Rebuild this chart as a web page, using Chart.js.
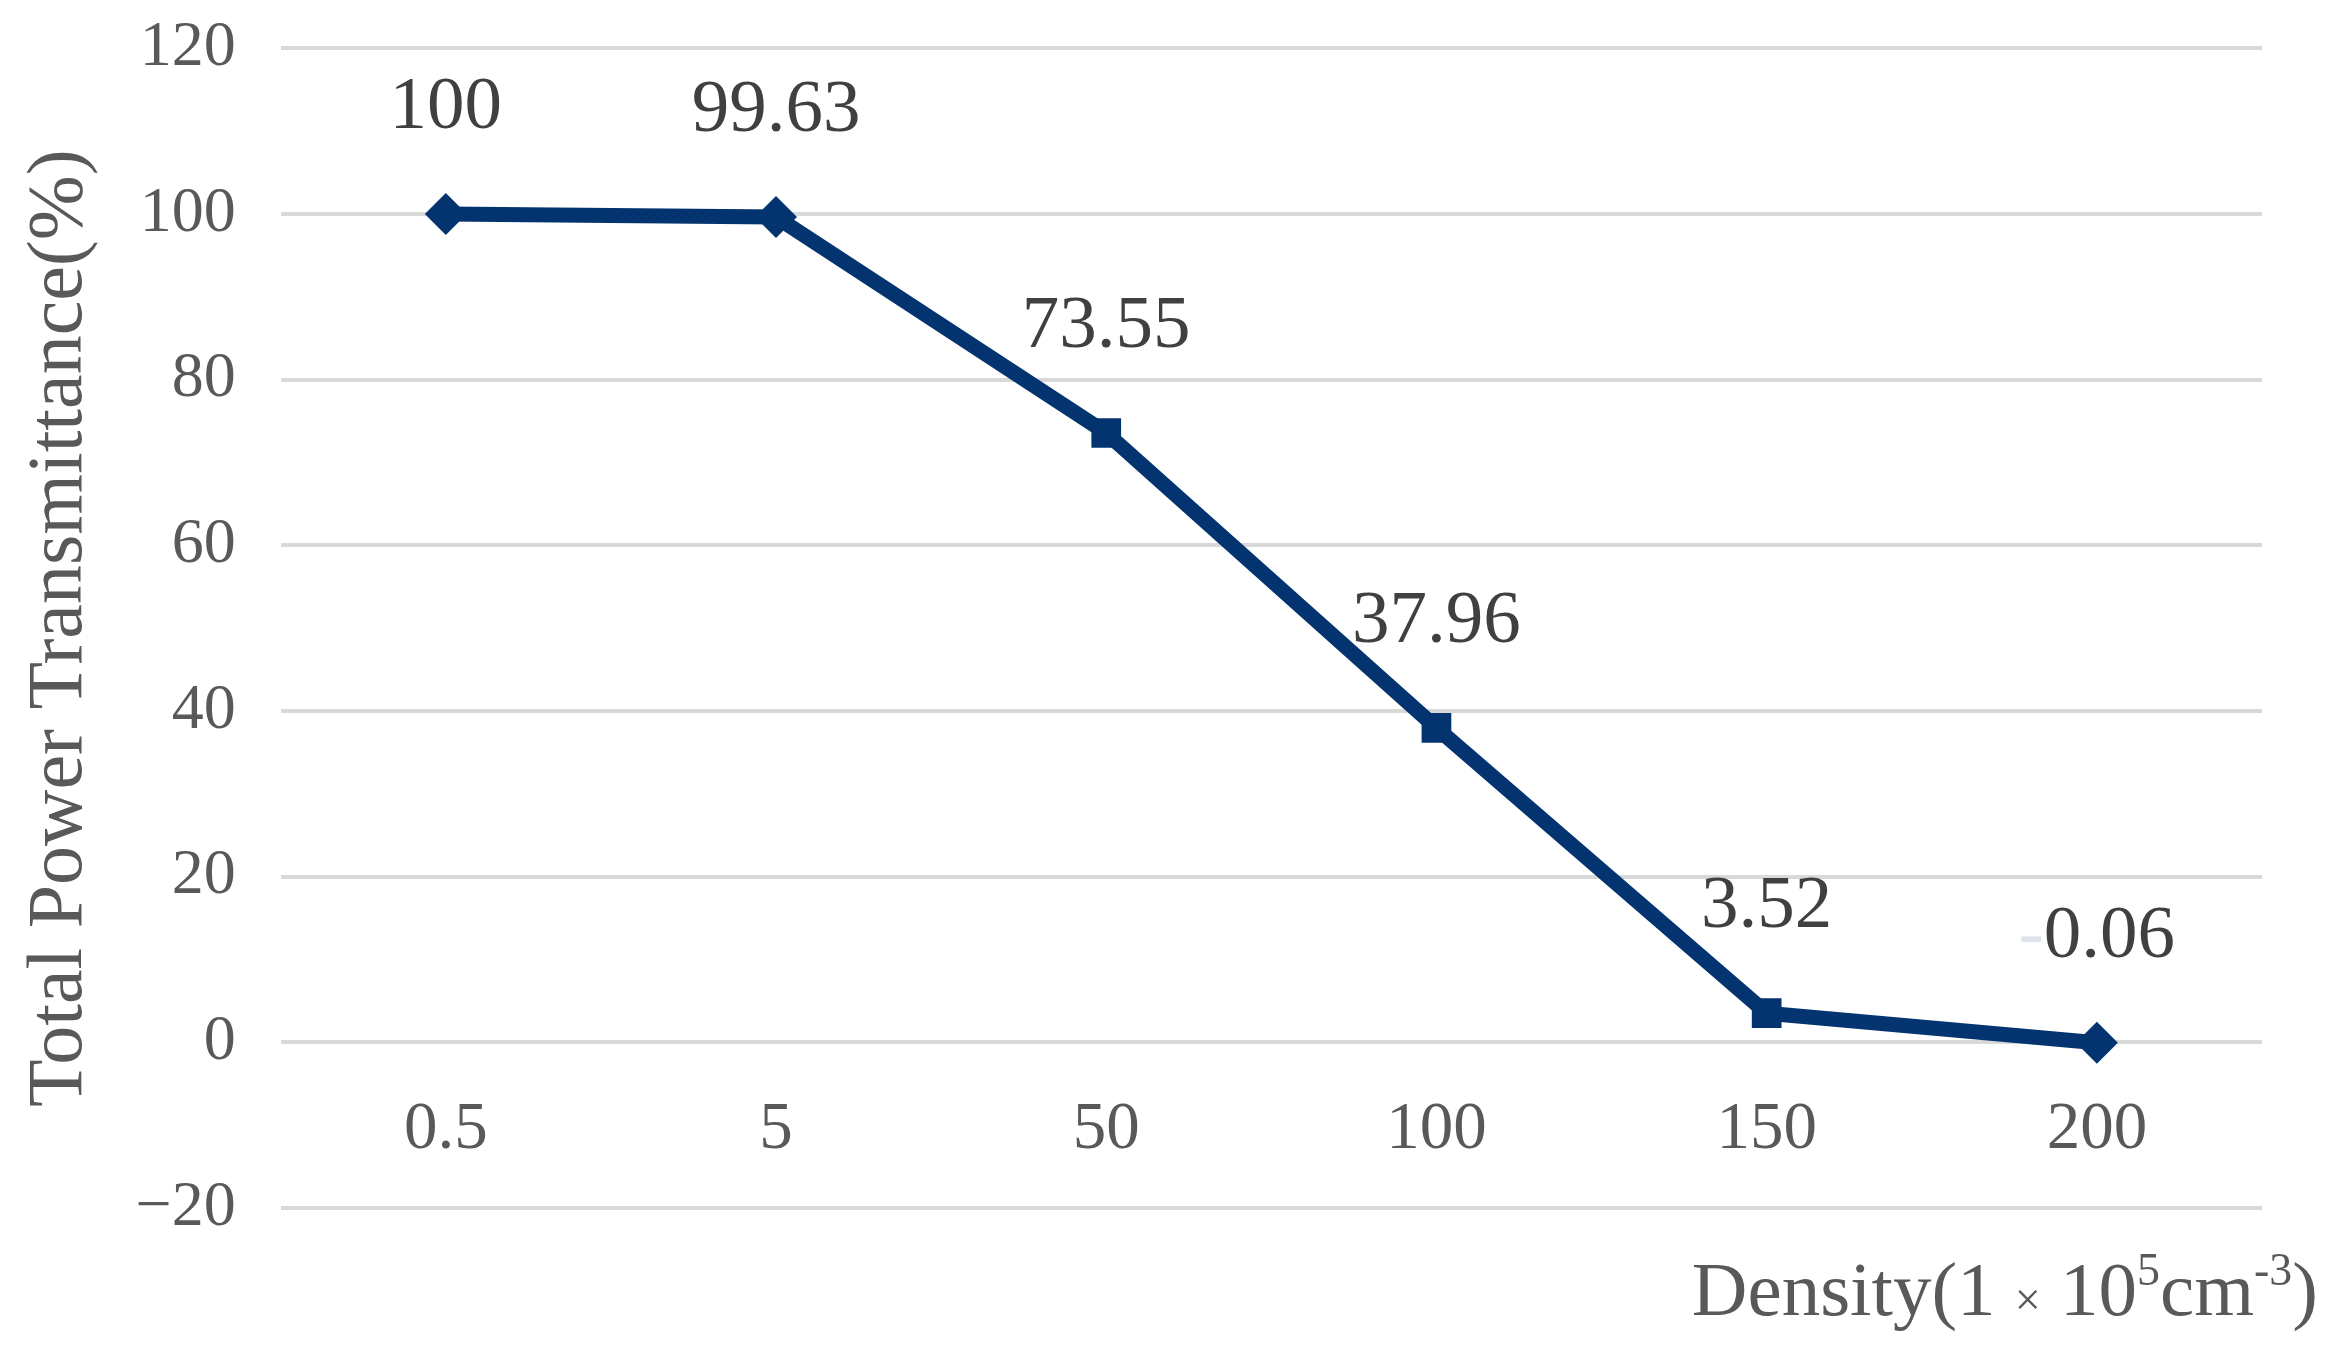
<!DOCTYPE html>
<html>
<head>
<meta charset="utf-8">
<script src="https://cdn.jsdelivr.net/npm/chart.js@4/dist/chart.umd.min.js"></script>
<style>
  html, body { margin: 0; padding: 0; background: #fff; }
  #wrap { width: 2335px; height: 1350px; }
</style>
</head>
<body>
<div id="wrap"><canvas id="chart"></canvas></div>
<script>
/* ── Data ─────────────────────────────────────────────────── */
const densities     = ['0.5', '5', '50', '100', '150', '200'];
const transmittance = [100, 99.63, 73.55, 37.96, 3.52, -0.06];
const yTicks        = [-20, 0, 20, 40, 60, 80, 100, 120];

const SERIF = '"Liberation Serif", "Times New Roman", serif';
const NAVY  = '#03346f';

/* ── Data labels above each point ─────────────────────────── */
const pointLabels = {
  id: 'pointLabels',
  afterDatasetsDraw(chart) {
    const { ctx } = chart;
    const meta = chart.getDatasetMeta(0);
    ctx.save();
    ctx.font = '75px ' + SERIF;
    ctx.textBaseline = 'middle';
    meta.data.forEach((pt, i) => {
      const txt = String(transmittance[i]);
      const y = pt.y - 106;
      if (txt.startsWith('-')) {
        // the minus is barely visible in the source figure
        const full = ctx.measureText(txt).width;
        const minus = ctx.measureText('-').width;
        const x = pt.x - full / 2;
        ctx.textAlign = 'left';
        ctx.fillStyle = '#dfe3ea';
        ctx.fillText('-', x, y);
        ctx.fillStyle = '#404040';
        ctx.fillText(txt.slice(1), x + minus, y);
      } else {
        ctx.textAlign = 'center';
        ctx.fillStyle = '#404040';
        ctx.fillText(txt, pt.x, y);
      }
    });
    ctx.restore();
  }
};

/* ── X axis title with superscripts ───────────────────────── */
const xTitle = {
  id: 'xTitle',
  afterDraw(chart) {
    const { ctx, chartArea } = chart;
    const big = '77px ' + SERIF, small = '46px ' + SERIF;
    const parts = [
      ['Density(1 ', big, 0],
      ['\u00d7', small, 0],
      [' 10', big, 0],
      ['5', small, -30],
      ['cm', big, 0],
      ['-3', small, -30],
      [')', big, 0]
    ];
    ctx.save();
    ctx.fillStyle = '#595959';
    ctx.textBaseline = 'alphabetic';
    ctx.textAlign = 'left';
    let total = 0;
    parts.forEach(([t, f]) => { ctx.font = f; total += ctx.measureText(t).width; });
    let x = chartArea.right + 56 - total;
    const base = chartArea.bottom + 107;
    parts.forEach(([t, f, dy]) => {
      ctx.font = f;
      ctx.fillText(t, x, base + dy);
      x += ctx.measureText(t).width;
    });
    ctx.restore();
  }
};

/* ── Chart ────────────────────────────────────────────────── */
new Chart(document.getElementById('chart'), {
  type: 'line',
  data: {
    labels: densities,
    datasets: [{
      data: transmittance,
      borderColor: NAVY,
      backgroundColor: NAVY,
      borderWidth: 15,
      tension: 0,
      pointStyle: ['rectRot', 'rectRot', 'rect', 'rect', 'rect', 'rectRot'],
      pointRadius: 21,
      pointBorderWidth: 0,
      pointBackgroundColor: NAVY,
    }]
  },
  options: {
    responsive: true, maintainAspectRatio: false,
    animation: false,
    layout: { padding: { top: 0, right: 73, bottom: 142, left: 14 } },
    plugins: { legend: { display: false }, tooltip: { enabled: false } },
    scales: {
      x: {
        type: 'category',
        position: { y: 0 },
        offset: true,
        grid: { display: false, drawTicks: false },
        border: { display: false },
        ticks: { color: '#595959', font: { family: SERIF, size: 67 }, padding: 48, maxRotation: 0 }
      },
      y: {
        min: -20, max: 120,
        afterBuildTicks: (s) => { s.ticks = yTicks.map(v => ({ value: v })); },
        grid: { color: '#d9d9d9', lineWidth: 4, drawTicks: false },
        border: { display: false },
        ticks: {
          color: '#595959', font: { family: SERIF, size: 64, lineHeight: 0.1 }, padding: 45,
          callback: (v) => v < 0 ? '\u2212' + Math.abs(v) : String(v)
        },
        title: {
          display: true, text: 'Total Power Transmittance(%)',
          color: '#595959', font: { family: SERIF, size: 78 },
          padding: { top: 0, bottom: -17 }
        }
      }
    }
  },
  plugins: [pointLabels, xTitle]
});
</script>
</body>
</html>
